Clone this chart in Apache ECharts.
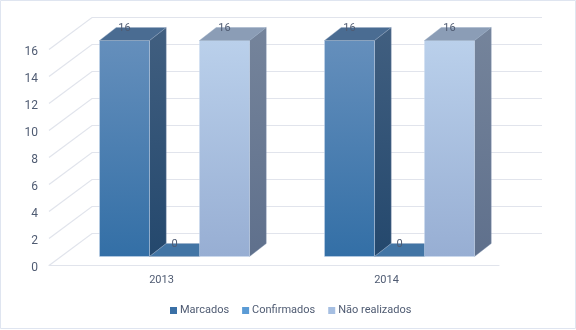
<!DOCTYPE html>
<html>
<head>
<meta charset="utf-8">
<style>html,body{margin:0;padding:0;background:#fff}#c{width:576px;height:330px}</style>
<script src="https://cdn.jsdelivr.net/npm/echarts@6/dist/echarts.min.js"></script>
</head>
<body>
<div id="c"></div>
<script>
const categories = ['2013', '2014'];
const marcados = [16, 16];
const confirmados = [0, 0];
const naoRealizados = [16, 16];
const yTicks = [0, 2, 4, 6, 8, 10, 12, 14, 16];

const FONT = 'Roboto';
const WALL = [43, -32], BAR_OFF = [13, -8.5], BAR_DEPTH = [16.7, -13];
const TXT = '#4f5b72', GRID = '#e1e4ec';

const chart = echarts.init(document.getElementById('c'));

function linear(a, b) {
  return {type: 'linear', x: 0, y: 0, x2: 0, y2: 1, colorStops: [{offset: 0, color: a}, {offset: 1, color: b}]};
}

function barSeries(name, values, slot, legendColor, front, side, top) {
  return {
    type: 'custom', name, coordinateSystem: 'cartesian2d', clip: false, z: 3 + slot,
    itemStyle: {color: legendColor},
    encode: {x: 0, y: 1},
    data: values.map((v, i) => [i, v]),
    renderItem(params, api) {
      const band = api.size([1, 0])[0];
      const w = band * 50 / 225;
      const p = api.coord([api.value(0), api.value(1)]);
      const base = api.coord([api.value(0), 0]);
      const x0 = base[0] - 1.5 * w + slot * w + BAR_OFF[0];
      const x1 = x0 + w;
      const yb = base[1] + BAR_OFF[1], yt = p[1] + BAR_OFF[1];
      const dx = BAR_DEPTH[0], dy = BAR_DEPTH[1];
      const edge = {stroke: 'rgba(205,220,240,0.45)', lineWidth: 1};
      const kids = [];
      if (yb - yt > 0) {
        kids.push({type: 'polygon', shape: {points: [[x1, yt], [x1 + dx, yt + dy], [x1 + dx, yb + dy], [x1, yb]]},
          style: Object.assign({fill: linear(side[0], side[1])}, {stroke: 'rgba(120,140,170,0.4)', lineWidth: 1})});
        kids.push({type: 'rect', shape: {x: x0, y: yt, width: w, height: yb - yt},
          style: Object.assign({fill: linear(front[0], front[1])}, edge)});
      }
      kids.push({type: 'polygon', shape: {points: [[x0, yt], [x1, yt], [x1 + dx, yt + dy], [x0 + dx, yt + dy]]},
        style: Object.assign({fill: top}, {stroke: 'rgba(150,170,195,0.4)', lineWidth: 1})});
      kids.push({type: 'text', z2: 50, style: {text: String(api.value(1)), x: x0 + w / 2, y: yt + dy + 1,
        align: 'center', verticalAlign: 'middle', font: '11px ' + FONT, fill: TXT}});
      return {type: 'group', children: kids};
    }
  };
}

chart.setOption({
  animation: false,
  backgroundColor: '#fff',
  graphic: [{type: 'rect', silent: true, z: -10,
    shape: {x: 0.5, y: 0.5, width: 575, height: 328},
    style: {fill: 'none', stroke: '#dfe5f0', lineWidth: 1}}],
  grid: {left: 49, top: 49, width: 450, height: 216},
  legend: {
    left: 170, top: 305, padding: 0, itemWidth: 7, itemHeight: 7, itemGap: 13, icon: 'rect',
    data: ['Marcados', 'Confirmados', 'Não realizados'],
    textStyle: {fontFamily: FONT, fontSize: 11, color: TXT, padding: [0, 0, 0, -2]}
  },
  xAxis: {
    type: 'category', data: categories, boundaryGap: true,
    axisTick: {show: false},
    axisLine: {lineStyle: {color: GRID, width: 1.2}},
    axisLabel: {fontFamily: FONT, fontSize: 11, color: TXT, margin: 10}
  },
  yAxis: {
    type: 'value', min: 0, max: 16, interval: 2,
    axisLine: {show: false}, axisTick: {show: false}, splitLine: {show: false},
    axisLabel: {fontFamily: FONT, fontSize: 12, color: TXT, margin: 11, verticalAlign: 'top', lineHeight: 6}
  },
  series: [
    {
      type: 'custom', name: 'grade', silent: true, clip: false, z: 1,
      encode: {x: 0, y: 1},
      data: yTicks.map(t => [0, t]),
      renderItem(params, api) {
        const cs = params.coordSys;
        const y = Math.round(api.coord([0, api.value(1)])[1]) + 0.5;
        return {type: 'polyline', shape: {points: [
          [cs.x, y], [cs.x + WALL[0], y + WALL[1]], [cs.x + cs.width + WALL[0], y + WALL[1]]
        ]}, style: {fill: 'none', stroke: GRID, lineWidth: 1.2}};
      }
    },
    barSeries('Marcados', marcados, 0, '#3a70a6', ['#658fbc', '#336fa6'], ['#415f80', '#24486d'], '#4a6c92'),
    barSeries('Confirmados', confirmados, 1, '#5b9bd5', ['#5b9bd5', '#5b9bd5'], ['#37608a', '#37608a'], '#4275a5'),
    barSeries('Não realizados', naoRealizados, 2, '#a6bfe2', ['#bad0eb', '#97aed3'], ['#75849b', '#5f708c'], '#8b9db6')
  ]
});
</script>
</body>
</html>
